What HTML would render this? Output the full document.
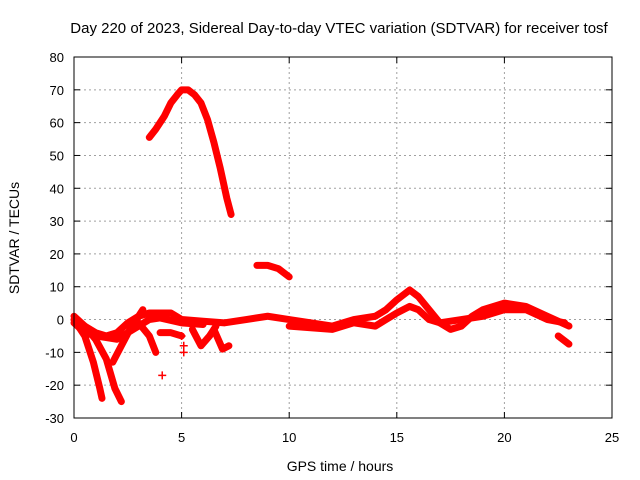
<!DOCTYPE html>
<html><head><meta charset="utf-8"><style>
body{margin:0;background:#fff}
svg{display:block;font-family:"Liberation Sans",sans-serif}
</style></head><body>
<svg id="chart" width="640" height="480" viewBox="0 0 640 480">
<text x="339" y="33" font-size="15" text-anchor="middle" fill="#000">Day 220 of 2023, Sidereal Day-to-day VTEC variation (SDTVAR) for receiver tosf</text>
<text x="19" y="238" font-size="14" text-anchor="middle" transform="rotate(-90 19 238)">SDTVAR / TECUs</text>
<text x="340" y="471" font-size="14" text-anchor="middle">GPS time / hours</text>
<g id="grid"></g>
<g id="axes"></g>
<g id="series"></g>
<rect x="74" y="57" width="538" height="361" fill="none" stroke="#000" stroke-width="1"/>
</svg>
<script>
const xTicks=[0,5,10,15,20,25];
const yTicks=[-30,-20,-10,0,10,20,30,40,50,60,70,80];
const curveArc=[[3.5,55.5],[3.8,58],[4.2,62],[4.5,66],[4.8,68.5],[5,70],[5.3,70],[5.6,68.5],[5.9,66],[6.2,61],[6.5,54],[6.8,46],[7.1,37],[7.3,32]];
const curveMid=[[8.5,16.5],[9,16.5],[9.5,15.5],[10,13]];
const curveMain=[[0,1],[0.5,-2],[1,-4],[1.5,-5],[2,-4],[2.5,-1],[3,1],[3.5,2],[4,2],[4.5,2],[5,0],[6,-0.5],[7,-1],[8,0],[9,1],[10,0],[11,-1],[12,-2],[12.5,-1],[13,0],[14,1],[14.5,3],[15,6],[15.6,9],[16,7],[16.5,3],[17,-1],[17.5,-3],[18,-2],[18.5,1],[19,3],[20,5],[21,4],[22,1],[23,-2]];
const curveLow=[[10,-2],[11,-2.5],[12,-3],[13,-1],[14,-2],[14.5,0],[15,2],[15.6,4],[16,3],[16.5,0],[17,-1],[18,0],[19,1],[20,3],[21,3],[22,0],[22.8,-1]];
const curveLow2=[[0,-1],[0.5,-4],[1,-5],[1.5,-5.5],[2,-6],[2.5,-4],[3,-2],[3.5,0],[4,0.5],[5,-1],[6,-1.5]];
const curveRise=[[1.8,-13],[2.2,-8],[2.6,-3],[3.2,3]];
const curveDrop1=[[0,0],[0.5,-5],[0.9,-13],[1.2,-21],[1.3,-24]];
const curveDrop2=[[0.5,-2],[1,-6],[1.5,-12],[1.9,-21],[2.2,-25]];
const curveDrop3=[[3,-1],[3.5,-5],[3.8,-10]];
const curveDip1=[[4,-4],[4.5,-4],[5,-5]];
const curveDip2=[[5.5,-3],[5.9,-8],[6.3,-5],[6.6,-2]];
const curveDip3=[[6.5,-3],[6.9,-9],[7.2,-8]];
const curveEnd=[[22.5,-5],[23,-7.5]];
const isolated=[[4.1,-17],[5.1,-10],[5.1,-8],[5.0,-5]];
const curves=[curveArc,curveMid,curveMain,curveLow,curveLow2,curveRise,curveDrop1,curveDrop2,curveDrop3,curveDip1,curveDip2,curveDip3,curveEnd];

const X0=74,X1=612,Y0=418,Y1=57;
const sx=v=>X0+(v-0)/(25-0)*(X1-X0);
const sy=v=>Y0-(v+30)/(110)*(Y0-Y1);
const NS='http://www.w3.org/2000/svg';
function mk(tag,attrs,parent){const e=document.createElementNS(NS,tag);for(const k in attrs)e.setAttribute(k,attrs[k]);parent.appendChild(e);return e;}
const grid=document.getElementById('grid'),axes=document.getElementById('axes'),ser=document.getElementById('series');
xTicks.forEach(t=>{const x=sx(t);
 if(t>0&&t<25){const g=mk('line',{x1:x,x2:x,y1:Y1,y2:Y0,stroke:'#a0a0a0','stroke-dasharray':'2,3'},grid);
 }
 mk('line',{x1:x,x2:x,y1:Y0,y2:Y0-6,stroke:'#000'},axes);mk('line',{x1:x,x2:x,y1:Y1,y2:Y1+6,stroke:'#000'},axes);
 const tx=mk('text',{x:x,y:Y0+24,'font-size':13,'text-anchor':'middle'},axes);tx.textContent=t;
 });
yTicks.forEach(t=>{const y=sy(t);
 if(t>-30&&t<80){const g=mk('line',{x1:X0,x2:X1,y1:y,y2:y,stroke:'#a0a0a0','stroke-dasharray':'2,3'},grid);
 }
 mk('line',{x1:X0,x2:X0+6,y1:y,y2:y,stroke:'#000'},axes);mk('line',{x1:X1,x2:X1-6,y1:y,y2:y,stroke:'#000'},axes);
 const tx=mk('text',{x:X0-10,y:y+5,'font-size':13,'text-anchor':'end'},axes);tx.textContent=t;
 });
curves.forEach(c=>{const p=mk('polyline',{points:c.map(d=>sx(d[0])+','+sy(d[1])).join(' '),fill:'none',stroke:'#f00','stroke-width':7,'stroke-linejoin':'round','stroke-linecap':'round'},ser);
 });
isolated.forEach(d=>{const x=sx(d[0]),y=sy(d[1]);
 const p=mk('path',{d:`M${x-4},${y}H${x+4}M${x},${y-4}V${y+4}`,stroke:'#f00','stroke-width':1.5},ser);
 });
</script>
</body></html>
